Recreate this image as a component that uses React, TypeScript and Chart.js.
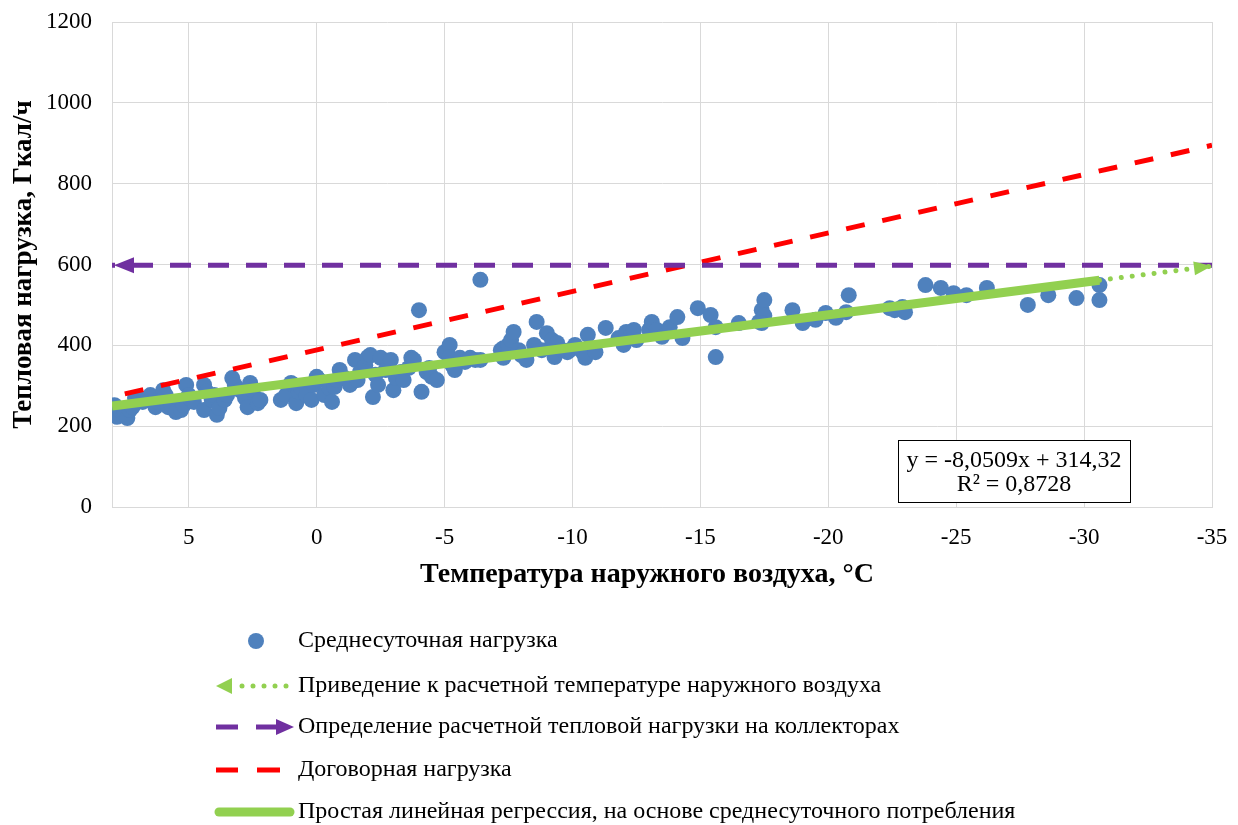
import React, { useEffect, useRef } from "react";
import { Chart, registerables } from "chart.js";

Chart.register(...registerables);

// ---- Data ----
const tempData: number[] = [
  8.0, 7.9, 7.8, 7.7, 7.5, 7.4, 7.3, 7.2, 7.1, 7.0, 6.8, 6.6, 6.5, 6.3, 6.2, 6.1, 6.0, 5.9, 5.8, 5.7, 5.5, 5.3, 5.2, 5.1, 5.0, 4.9, 4.8,
  4.4, 4.4, 4.3, 4.1, 4.0, 3.9, 3.8, 3.6, 3.5, 3.3, 3.2, 3.0, 2.8, 2.7, 2.6, 2.5, 2.3, 2.2,
  1.4, 1.2, 1.0, 0.9, 0.8, 0.7, 0.6, 0.4, 0.2, 0.1, 0.0, -0.1,
  -0.3, -0.5, -0.6, -0.7, -0.8, -0.9, -1.1, -1.3, -1.5, -1.6, -1.7, -1.9, -2.0, -2.1, -2.2, -2.3, -2.4, -2.5, -2.7, -2.9, -3.0, -3.1, -3.3, -3.4, -3.6, -3.7, -3.8, -4.0, -4.1, -4.3, -4.4, -4.5, -4.7,
  -5.0, -5.2, -5.2, -5.3, -5.4, -5.6, -5.8, -6.0, -6.2, -6.4, -6.4, -7.2, -7.3, -7.3, -7.5, -7.6, -7.7, -7.9, -8.0, -8.2,
  -8.5, -8.6, -8.8, -9.0, -9.2, -9.3, -9.4, -9.6, -9.8, -9.9, -10.1, -10.4, -10.5, -10.6, -10.9, -11.3, -11.8, -12.0, -12.1, -12.3, -12.4, -12.5,
  -13.0, -13.1, -13.3, -13.5, -13.8, -14.1, -14.3, -14.9, -15.4, -15.6, -15.6, -16.5, -17.3, -17.4, -17.5, -17.5, -17.4,
  -18.6, -19.0, -19.5, -19.9, -20.3, -20.8, -20.7, -22.4, -22.6, -22.9, -23.0, -23.8, -24.4, -24.9, -25.4, -26.2, -27.8, -28.6, -29.7, -30.6, -30.6,
];
const loadData: number[] = [
  245, 252, 223, 240, 233, 220, 240, 247, 270, 270, 260, 265, 277, 247, 260, 270, 289, 277, 247, 255, 235, 240, 252, 302, 277, 265, 260,
  240, 302, 285, 265, 277, 228, 245, 265, 277, 319, 302, 289, 270, 247, 307, 289, 257, 265,
  265, 277, 307, 302, 257, 285, 294, 277, 265, 302, 322, 314,
  277, 294, 260, 297, 314, 339, 319, 302, 364, 314, 334, 351, 371, 376, 272, 327, 302, 369, 339, 364, 289, 319, 334, 314, 344, 369, 364, 487, 285, 334, 344, 322, 314,
  383, 401, 371, 351, 339, 369, 359, 369, 364, 562, 364, 388, 393, 369, 401, 413, 433, 388, 376, 364,
  401, 458, 388, 430, 413, 371, 406, 388, 383, 388, 401, 383, 369, 426, 383, 443, 418, 401, 433, 426, 438, 413,
  438, 458, 438, 421, 445, 470, 418, 492, 475, 445, 371, 455, 458, 487, 512, 473, 455,
  487, 455, 463, 480, 468, 524, 482, 492, 487, 495, 482, 549, 542, 529, 524, 542, 500, 524, 517, 549, 512,
];

const regressionX: number[] = [8, -30.6];
const regressionY: number[] = [250, 561];
const extrapX: number[] = [-30.6, -35];
const extrapY: number[] = [561, 596];
const designX: number[] = [8, -35];
const designY: number[] = [598, 598];
const contractX: number[] = [7.5, -35];
const contractY: number[] = [280, 895];

const xTickValues: number[] = [5, 0, -5, -10, -15, -20, -25, -30, -35];
const yTickValues: number[] = [0, 200, 400, 600, 800, 1000, 1200];

const seriesNames: string[] = [
  "Среднесуточная нагрузка",
  "Приведение к расчетной температуре наружного воздуха",
  "Определение расчетной тепловой нагрузки на коллекторах",
  "Договорная нагрузка",
  "Простая линейная регрессия, на основе среднесуточного потребления",
];
const equationLines: string[] = ["y = -8,0509x + 314,32", "R² = 0,8728"];
const xTitle = "Температура наружного воздуха, °C";
const yTitle = "Тепловая нагрузка, Гкал/ч";

const FONT = "'Liberation Serif', 'Times New Roman', serif";
const BLUE = "#4f81bd";
const GREEN = "#92d050";
const PURPLE = "#7030a0";
const RED = "#ff0000";
const GRID = "#d9d9d9";

const pts = (xs: number[], ys: number[]) => xs.map((x, i) => ({ x, y: ys[i] }));

function tri(ctx: CanvasRenderingContext2D, tipX: number, tipY: number, ang: number, len: number, half: number, color: string) {
  ctx.save();
  ctx.translate(tipX, tipY);
  ctx.rotate(ang);
  ctx.beginPath();
  ctx.moveTo(0, 0);
  ctx.lineTo(-len, -half);
  ctx.lineTo(-len, half);
  ctx.closePath();
  ctx.fillStyle = color;
  ctx.fill();
  ctx.restore();
}

const arrowPlugin = {
  id: "arrows",
  afterDatasetsDraw(chart: any) {
    const ctx = chart.ctx;
    const ex = chart.getDatasetMeta(2).data;
    if (ex.length >= 2) {
      const a = ex[0], b = ex[ex.length - 1];
      tri(ctx, b.x, b.y, Math.atan2(b.y - a.y, b.x - a.x), 18, 7, GREEN);
    }
    const ds = chart.getDatasetMeta(3).data;
    if (ds.length >= 2) {
      const a = ds[ds.length - 1], b = ds[0];
      tri(ctx, b.x + 2, b.y, Math.atan2(b.y - a.y, b.x - a.x), 20, 8, PURPLE);
    }
  },
};

const overlayPlugin = {
  id: "overlay",
  afterDraw(chart: any) {
    const ctx: CanvasRenderingContext2D = chart.ctx;
    ctx.save();
    // x axis title (slightly left of the plot centre, as in the source)
    ctx.fillStyle = "#000";
    ctx.font = `bold 28px ${FONT}`;
    ctx.textAlign = "center";
    ctx.textBaseline = "middle";
    ctx.fillText(xTitle, 647, 575);

    // equation box
    const bx = 898, by = 440, bw = 232, bh = 62;
    ctx.fillStyle = "#ffffff";
    ctx.fillRect(bx, by, bw, bh);
    ctx.strokeStyle = "#000000";
    ctx.lineWidth = 1;
    ctx.strokeRect(bx + 0.5, by + 0.5, bw, bh);
    ctx.fillStyle = "#000";
    ctx.font = `24px ${FONT}`;
    ctx.fillText(equationLines[0], bx + bw / 2, by + 21);
    ctx.fillText(equationLines[1], bx + bw / 2, by + 45);

    // legend
    const ys = [641, 686, 727, 770, 812];
    const tx = 298;
    ctx.textAlign = "left";
    ctx.font = `24px ${FONT}`;
    seriesNames.forEach((n, i) => {
      ctx.fillStyle = "#000";
      ctx.fillText(n, tx, ys[i]);
    });
    // icon 1: dot
    ctx.beginPath();
    ctx.arc(256, ys[0], 8, 0, Math.PI * 2);
    ctx.fillStyle = BLUE;
    ctx.fill();
    // icon 2: dotted green with left arrow
    tri(ctx, 216, ys[1], Math.PI, 16, 8, GREEN);
    ctx.fillStyle = GREEN;
    [242, 253, 264, 275, 286].forEach((x) => {
      ctx.beginPath();
      ctx.arc(x, ys[1], 2.5, 0, Math.PI * 2);
      ctx.fill();
    });
    // icon 3: purple dash + arrow
    ctx.strokeStyle = PURPLE;
    ctx.lineWidth = 5;
    ctx.beginPath();
    ctx.moveTo(216, ys[2]); ctx.lineTo(238, ys[2]);
    ctx.moveTo(256, ys[2]); ctx.lineTo(278, ys[2]);
    ctx.stroke();
    tri(ctx, 294, ys[2], 0, 18, 8, PURPLE);
    // icon 4: red dashes
    ctx.strokeStyle = RED;
    ctx.beginPath();
    ctx.moveTo(216, ys[3]); ctx.lineTo(238, ys[3]);
    ctx.moveTo(257, ys[3]); ctx.lineTo(280, ys[3]);
    ctx.stroke();
    // icon 5: green solid
    ctx.strokeStyle = GREEN;
    ctx.lineWidth = 9;
    ctx.lineCap = "round";
    ctx.beginPath();
    ctx.moveTo(219, ys[4]); ctx.lineTo(290, ys[4]);
    ctx.stroke();
    ctx.restore();
  },
};

export default function App() {
  const ref = useRef<HTMLCanvasElement | null>(null);
  useEffect(() => {
    if (!ref.current) return;
    Chart.defaults.font.family = FONT;
    Chart.defaults.color = "#000";
    const chart = new Chart(ref.current, {
      type: "scatter",
      data: {
        datasets: [
          {
            label: seriesNames[0],
            data: pts(tempData, loadData),
            backgroundColor: BLUE,
            borderColor: BLUE,
            pointRadius: 8,
            pointBorderWidth: 0,
            order: 5,
          },
          {
            label: seriesNames[4],
            data: pts(regressionX, regressionY),
            showLine: true,
            borderColor: GREEN,
            borderWidth: 9,
            pointRadius: 0,
            order: 1,
          },
          {
            label: seriesNames[1],
            data: pts(extrapX, extrapY),
            showLine: true,
            borderColor: GREEN,
            borderWidth: 5,
            borderDash: [0.01, 11],
            borderCapStyle: "round",
            pointRadius: 0,
            order: 2,
          },
          {
            label: seriesNames[2],
            data: pts(designX, designY),
            showLine: true,
            borderColor: PURPLE,
            borderWidth: 5,
            borderDash: [21, 17],
            borderDashOffset: -20,
            pointRadius: 0,
            order: 3,
          },
          {
            label: seriesNames[3],
            data: pts(contractX, contractY),
            showLine: true,
            borderColor: RED,
            borderWidth: 5,
            borderDash: [19, 18],
            pointRadius: 0,
            order: 4,
          },
        ] as any,
      },
      options: {
        animation: false,
        responsive: false,
        events: [],
        layout: { padding: { left: 0, right: 26, top: 22, bottom: 233 } },
        plugins: { legend: { display: false }, tooltip: { enabled: false } },
        scales: {
          x: {
            type: "linear",
            reverse: true,
            min: -35,
            max: 8,
            afterBuildTicks: (s: any) => {
              s.ticks = xTickValues.map((v) => ({ value: v }));
            },
            afterFit: (s: any) => {
              s.height = 85;
            },
            grid: { color: GRID, lineWidth: 1, drawTicks: true, tickLength: 14, tickColor: "rgba(0,0,0,0)" },
            border: { color: GRID, width: 1 },
            ticks: { font: { size: 23 }, padding: 3, color: "#000", callback: (v: any) => String(v), maxRotation: 0 },
            title: { display: false, text: xTitle },
          },
          y: {
            type: "linear",
            min: 0,
            max: 1200,
            afterBuildTicks: (s: any) => {
              s.ticks = yTickValues.map((v) => ({ value: v }));
            },
            afterFit: (s: any) => {
              s.width = 112;
            },
            grid: { color: GRID, lineWidth: 1, drawTicks: true, tickLength: 17, tickColor: "rgba(0,0,0,0)" },
            border: { color: GRID, width: 1 },
            ticks: { font: { size: 23 }, padding: 3, color: "#000", callback: (v: any) => String(v) },
            title: { display: true, text: yTitle, font: { size: 27, weight: "bold" }, padding: { top: 8, bottom: 0 }, color: "#000" },
          },
        },
      },
      plugins: [arrowPlugin, overlayPlugin],
    } as any);
    return () => chart.destroy();
  }, []);
  return (
    <div style={{ position: "absolute", left: 0, top: 0, width: 1238, height: 825, background: "#fff" }}>
      <canvas ref={ref} width={1238} height={825} style={{ display: "block" }} />
    </div>
  );
}
